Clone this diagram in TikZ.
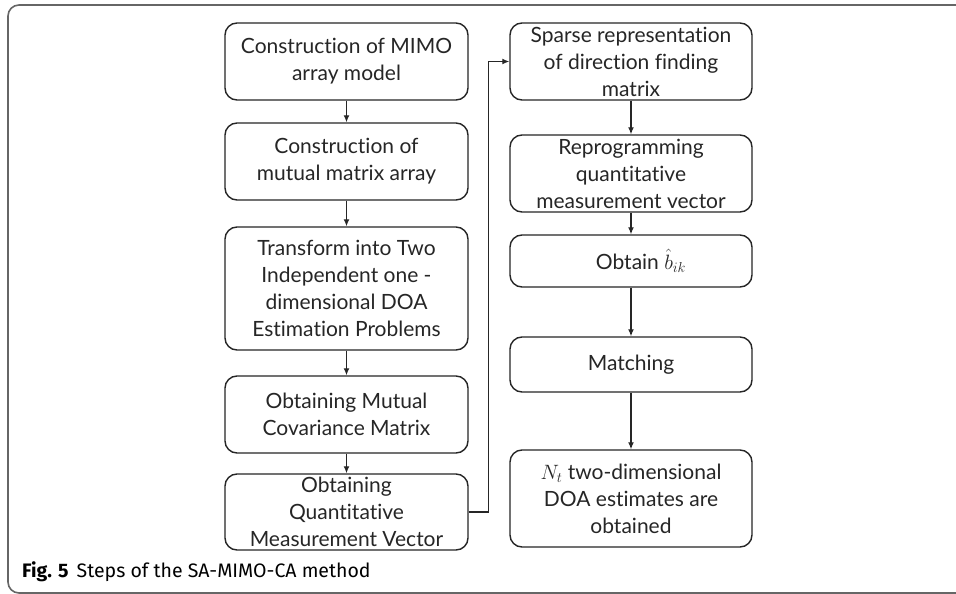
\documentclass[tikz,border=0pt]{standalone}
\usepackage{fontspec}
\setmainfont{Lato}[Ligatures=NoCommon]
\newfontfamily\capfont{Fira Sans}
\usetikzlibrary{arrows.meta}
\tikzset{
  stepbox/.style={draw=black!85, line width=1.4pt, rounded corners=12pt, align=center,
    inner sep=0pt, font=\fontsize{21}{27}\selectfont, text=black!85},
  lbox/.style={stepbox, minimum width=243pt},
  rbox/.style={stepbox, minimum width=242pt},
  arr/.style={draw=black!85, line width=1.3pt, -{Latex[length=7pt,width=6pt]}},
}
\begin{document}
\begin{tikzpicture}[x=1pt,y=-1pt]
\useasboundingbox (0,0) rectangle (956,594);
\clip (0,0) rectangle (956,594);
\fill[white] (0,0) rectangle (956,594);
\draw[black!60, line width=1.6pt, rounded corners=11pt] (8,5) rectangle (1000,593);

\node[lbox, minimum height=77pt] (b1) at (346.5,61.5) {Construction of MIMO\\array model};
\node[lbox, minimum height=77pt] (b2) at (346.5,161.5) {Construction of\\mutual matrix array};
\node[lbox, minimum height=123pt] (b3) at (346.5,288.5) {Transform into Two\\Independent one -\\dimensional DOA\\Estimation Problems};
\node[lbox, minimum height=77pt] (b4) at (346.5,414.5) {Obtaining Mutual\\Covariance Matrix};
\node[lbox, minimum height=76pt] (b5) at (346.5,512) {Obtaining\\Quantitative\\Measurement Vector};

\node[rbox, minimum height=77pt] (b6) at (631,61.5) {Sparse representation\\of direction finding\\matrix};
\node[rbox, minimum height=77pt] (b7) at (631,173.5) {Reprogramming\\quantitative\\measurement vector};
\node[rbox, minimum height=52pt] (b8) at (631,261) {\hspace{20pt}Obtain $\hat{b}_{ik}$};
\node[rbox, minimum height=55pt] (b9) at (631,364.5) {Matching};
\node[rbox, minimum height=97pt] (b10) at (631,498.5) {$N_t$ two-dimensional\\DOA estimates are\\obtained};

\draw[arr] (b1) -- (b2);
\draw[arr] (b2) -- (b3);
\draw[arr] (b3) -- (b4);
\draw[arr] (b4) -- (b5);
\draw[arr] (b5.east) -- ++(20,0) |- (b6.west);
\draw[arr] (b6) -- (b7);
\draw[arr] (b7) -- (b8);
\draw[arr] (b8) -- (b9);
\draw[arr] (b9) -- (b10);

\node[anchor=base west, inner sep=0pt, font=\capfont\fontsize{19.5}{22}\selectfont] (cap) at (22,577)
  {\textbf{Fig. 5}\hspace{8pt}Steps of the SA-MIMO-CA method};
\end{tikzpicture}
\end{document}
